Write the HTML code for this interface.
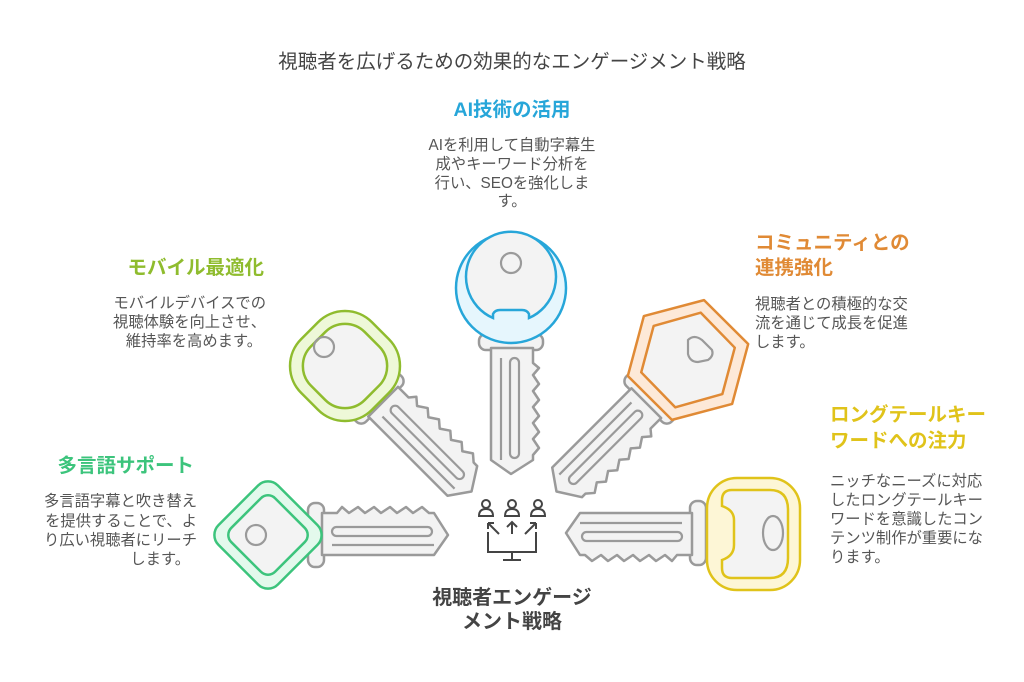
<!DOCTYPE html>
<html><head><meta charset="utf-8"><style>
body{margin:0;background:#fff;}
svg{display:block;font-family:"Liberation Sans","Noto Sans CJK JP",sans-serif;}
.d{font-size:15.3px;fill:#555;}
.h{font-size:19.5px;font-weight:bold;}
</style></head><body>
<svg width="1024" height="682" viewBox="0 0 1024 682" xmlns="http://www.w3.org/2000/svg">
<defs>
<g id="shaft">
  <rect x="46" y="-32" width="16" height="64" rx="7" fill="#f3f3f3" stroke="#9a9a9a" stroke-width="2.5"/>
  <path d="M60,-22 L75,-22 L80,-28 L87,-22 L96,-28 L103,-22 L112,-28 L119,-22 L128,-28 L135,-22 L144,-28 L151,-22 L160,-28 L167,-22 L172,-22 L186,0 L172,20 L60,20 Z" fill="#f3f3f3" stroke="#9a9a9a" stroke-width="2.5" stroke-linejoin="round"/>
  <rect x="70" y="-8" width="100" height="9" rx="4.5" fill="none" stroke="#9a9a9a" stroke-width="2.2"/>
  <line x1="70" y1="10" x2="172" y2="10" stroke="#9a9a9a" stroke-width="2.2"/>
</g>
</defs>

<text x="512" y="68" text-anchor="middle" font-size="19.5" fill="#444">視聴者を広げるための効果的なエンゲージメント戦略</text>

<use href="#shaft" transform="translate(511,288) rotate(90)"/>
<use href="#shaft" transform="translate(340,360) rotate(45)"/>
<use href="#shaft" transform="translate(688,360) rotate(135)"/>
<use href="#shaft" transform="translate(262,535)"/>
<use href="#shaft" transform="translate(752,533) rotate(180)"/>

<circle cx="511" cy="288" r="55" fill="#e6f6fd" stroke="#27a6d9" stroke-width="2.5"/>
<path d="M493,318 A45,45 0 1 1 529,318 L529,314 Q527,310 522,310 L500,310 Q495,310 493,314 Z" fill="#f3f3f3" stroke="#27a6d9" stroke-width="2.5"/>
<circle cx="511" cy="263" r="10" fill="none" stroke="#9a9a9a" stroke-width="2.2"/>

<g transform="translate(345,366) rotate(45)">
  <rect x="-50" y="-50" width="100" height="100" rx="38" fill="#eef8d8" stroke="#8fbc2e" stroke-width="2.5"/>
  <rect x="-38" y="-38" width="76" height="76" rx="28" fill="#f3f3f3" stroke="#8fbc2e" stroke-width="2.5"/>
</g>
<circle cx="324" cy="347" r="10" fill="none" stroke="#9a9a9a" stroke-width="2.2"/>

<polygon points="688,298 742,329 742,391 688,422 634,391 634,329" transform="rotate(15 688 360)" fill="#fde9d8" stroke="#e08a35" stroke-width="2.5" stroke-linejoin="round"/>
<polygon points="688,311 730,336 730,384 688,409 646,384 646,336" transform="rotate(15 688 360)" fill="#f3f3f3" stroke="#e08a35" stroke-width="2.5" stroke-linejoin="round"/>
<path d="M688,340 q6,-6 14,0 l10,10 q2,6 -4,10 l-10,2 q-8,0 -10,-8 z" fill="none" stroke="#9a9a9a" stroke-width="2.2"/>

<g transform="translate(268,535) rotate(45)">
  <rect x="-42" y="-42" width="84" height="84" rx="14" fill="#e3f9ec" stroke="#3cc47c" stroke-width="2.5"/>
  <rect x="-31" y="-31" width="62" height="62" rx="10" fill="#f3f3f3" stroke="#3cc47c" stroke-width="2.5"/>
</g>
<circle cx="256" cy="535" r="10" fill="none" stroke="#9a9a9a" stroke-width="2.2"/>

<rect x="707" y="478" width="93" height="112" rx="30" fill="#fdf6d6" stroke="#e0c31a" stroke-width="2.5"/>
<path d="M732,490 L770,490 Q788,490 788,510 L788,558 Q788,578 770,578 L732,578 Q722,578 722,568 L722,560 Q734,556 734,545 L734,520 Q734,510 722,506 L722,500 Q722,490 732,490 Z" fill="#f3f3f3" stroke="#e0c31a" stroke-width="2.5"/>
<ellipse cx="773" cy="533" rx="10" ry="17" fill="none" stroke="#9a9a9a" stroke-width="2.2"/>

<g fill="none" stroke="#444" stroke-width="2">
  <circle cx="486" cy="504" r="4"/><path d="M479,516 q0,-7 7,-7 q7,0 7,7 z"/>
  <circle cx="512" cy="504" r="4"/><path d="M505,516 q0,-7 7,-7 q7,0 7,7 z"/>
  <circle cx="538" cy="504" r="4"/><path d="M531,516 q0,-7 7,-7 q7,0 7,7 z"/>
  <path d="M499,534 L488,523 M488,523 h6 M488,523 v6"/>
  <path d="M512,534 V522 M507,527 L512,522 L517,527"/>
  <path d="M525,534 L536,523 M536,523 h-6 M536,523 v6"/>
  <path d="M488,532 V552 H536 V532 M512,552 V560 M503,560 H521"/>
</g>

<text x="512" y="116" text-anchor="middle" class="h" fill="#27a6d9">AI技術の活用</text>
<g class="d" text-anchor="middle">
<text x="512" y="150">AIを利用して自動字幕生</text>
<text x="512" y="169">成やキーワード分析を</text>
<text x="512" y="188">行い、SEOを強化しま</text>
<text x="512" y="206">す。</text>
</g>

<text x="264" y="274" text-anchor="end" class="h" fill="#8fbc2e">モバイル最適化</text>
<g class="d" text-anchor="end">
<text x="266" y="308">モバイルデバイスでの</text>
<text x="266" y="327">視聴体験を向上させ、</text>
<text x="262" y="346">維持率を高めます。</text>
</g>

<text x="194" y="472" text-anchor="end" class="h" fill="#3cc47c">多言語サポート</text>
<g class="d" text-anchor="end">
<text x="197" y="506">多言語字幕と吹き替え</text>
<text x="197" y="526">を提供することで、よ</text>
<text x="197" y="545">り広い視聴者にリーチ</text>
<text x="190" y="564">します。</text>
</g>

<text x="755" y="249" class="h" fill="#e08a35">コミュニティとの</text>
<text x="755" y="274" class="h" fill="#e08a35">連携強化</text>
<g class="d">
<text x="755" y="309">視聴者との積極的な交</text>
<text x="755" y="328">流を通じて成長を促進</text>
<text x="755" y="347">します。</text>
</g>

<text x="830" y="421" class="h" fill="#e0c31a">ロングテールキー</text>
<text x="830" y="447" class="h" fill="#e0c31a">ワードへの注力</text>
<g class="d">
<text x="830" y="486">ニッチなニーズに対応</text>
<text x="830" y="505">したロングテールキー</text>
<text x="830" y="524">ワードを意識したコン</text>
<text x="830" y="543">テンツ制作が重要にな</text>
<text x="830" y="562">ります。</text>
</g>

<text x="512" y="604" text-anchor="middle" font-size="20" font-weight="bold" fill="#444">視聴者エンゲージ</text>
<text x="512" y="628" text-anchor="middle" font-size="20" font-weight="bold" fill="#444">メント戦略</text>
</svg>
</body></html>
